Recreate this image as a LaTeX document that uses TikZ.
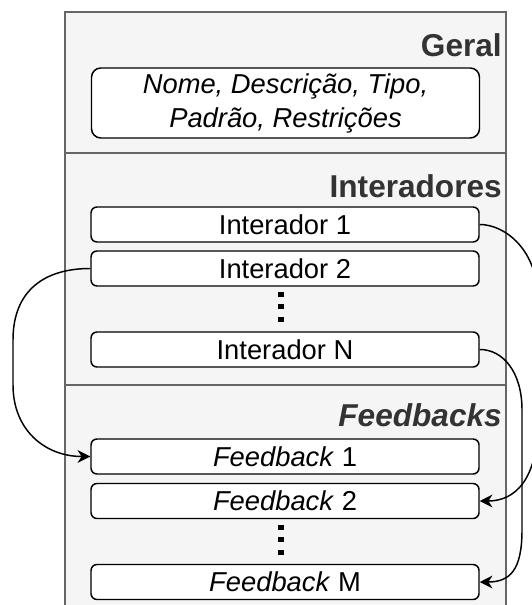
\documentclass[tikz,border=0pt]{standalone}
\usepackage{fontspec}
\setmainfont{Liberation Sans}
\usetikzlibrary{arrows.meta}
\definecolor{panelfill}{HTML}{F5F5F5}
\definecolor{panelline}{HTML}{666666}
\definecolor{headtext}{HTML}{333333}
\tikzset{
  panel/.style={fill=panelfill},
  panelborder/.style={draw=panelline, line width=1.4pt},
  itembox/.style={draw=black, fill=white, line width=1.1pt, rounded corners=4.5pt,
    minimum width=291pt, minimum height=26.25pt, inner sep=0pt,
    font=\fontsize{20.5}{25.5}\selectfont},
  infobox/.style={itembox, minimum height=52.5pt, rounded corners=7pt, align=center},
  heading/.style={anchor=east, inner sep=0pt, text=headtext,
    font=\fontsize{23.7}{28}\selectfont\bfseries},
  ellipsisdots/.style={line width=4.5pt, dash pattern=on 3.75pt off 5.6pt},
  link/.style={draw=black, line width=1.1pt,
    -{Stealth[length=9.5pt, width=9.5pt, inset=3pt]}}
}
\begin{document}
\begin{tikzpicture}[x=0.75pt, y=-0.75pt]
\useasboundingbox (0,0) rectangle (531,605);

% container panel with its three sections
\fill[panel] (65,12) rectangle (506,605);
\draw[panelborder] (65,605) -- (65,12) -- (506,12) -- (506,605);
\draw[panelborder] (65,153) -- (506,153);
\draw[panelborder] (65,385) -- (506,385);

% section headings
\node[heading] (hgeral) at (502,45) {Geral};
\node[heading] (hinter) at (502,186) {Interadores};
\node[heading] (hfeed)  at (502,415.5) {\itshape Feedbacks};

% general attributes
\node[infobox] (geral) at (285.5,103)
  {\itshape Nome, Descrição, Tipo,\\ \itshape Padrão, Restrições};

% interactors
\node[itembox] (i1) at (285,224.5) {Interador 1};
\node[itembox] (i2) at (285,268.5) {Interador 2};
\node[itembox] (iN) at (285,349.5) {Interador N};
\draw[ellipsisdots] (281,292) -- (281,323);

% feedbacks
\node[itembox] (f1) at (285,456.5) {\textit{Feedback} 1};
\node[itembox] (f2) at (285,501)   {\textit{Feedback} 2};
\node[itembox] (fM) at (285,582)   {\textit{Feedback} M};
\draw[ellipsisdots] (281,525) -- (281,556);

% interactor -> feedback links
\draw[link] (i1.east) .. controls (505,224.5) and (538,250) .. (538,300)
  -- (538,420) .. controls (538,480) and (515,501) .. (f2.east);
\draw[link] (iN.east) .. controls (503,349.5) and (522,372) .. (522,410)
  -- (522,530) .. controls (522,570) and (510,582) .. (fM.east);
\draw[link] (i2.west) .. controls (45,268.5) and (13,290) .. (13,340)
  -- (13,385) .. controls (13,430) and (45,456.5) .. (f1.west);
\end{tikzpicture}
\end{document}
